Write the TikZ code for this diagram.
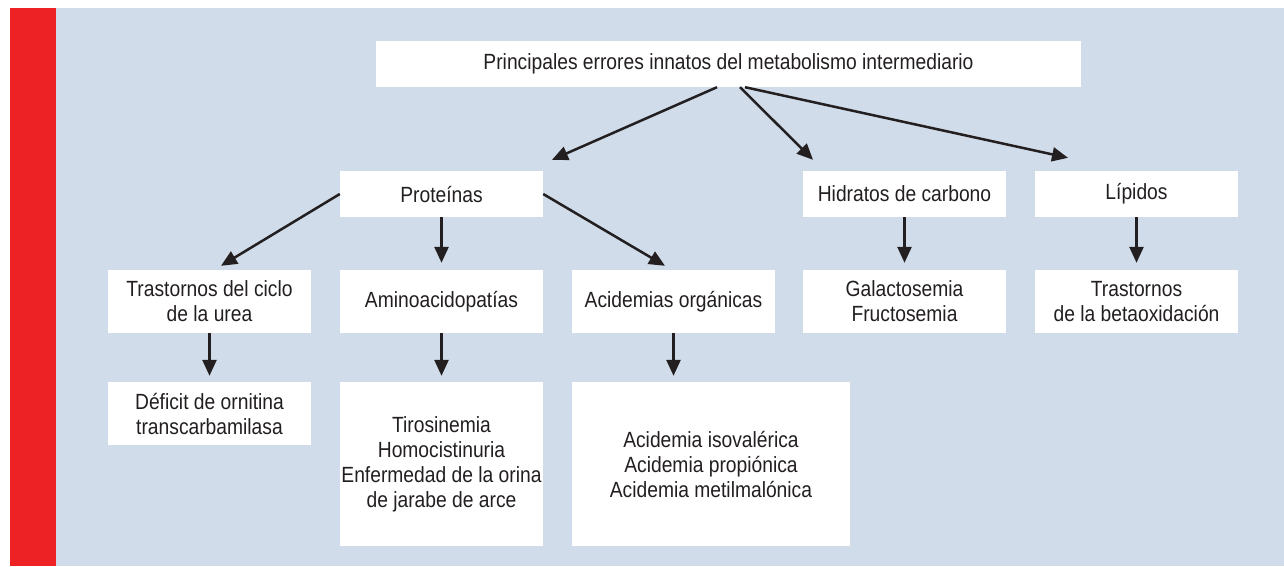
\documentclass[tikz,border=0pt]{standalone}
\usepackage{fontspec}
\setmainfont{Liberation Sans}[FakeStretch=0.875]
\usetikzlibrary{arrows.meta}
\definecolor{redbar}{RGB}{237,34,37}
\definecolor{bgblue}{RGB}{208,220,233}
\definecolor{ink}{RGB}{35,31,32}
\tikzset{
  box/.style={fill=white, draw=none, inner sep=0pt, align=center, text=ink,
    font=\fontsize{22}{25}\selectfont},
  conn/.style={draw=ink, line width=2.5pt, -{Triangle[length=16pt,width=14pt]}},
}
\begin{document}
\begin{tikzpicture}[x=1pt,y=-1pt]
\useasboundingbox (0,0) rectangle (1284,566);
\fill[white] (0,0) rectangle (1284,566);
\fill[redbar] (10,8) rectangle (56,566);
\fill[bgblue] (56,8) rectangle (1284,566);

\node[box, minimum width=705pt, minimum height=46pt] (top) at (728.5,64)
  {Principales errores innatos del metabolismo intermediario};

\node[box, minimum width=203pt, minimum height=46pt] (prot) at (441.5,194) {Proteínas};
\node[box, minimum width=203pt, minimum height=46pt] (hid) at (904.5,194) {Hidratos de carbono};
\node[box, minimum width=203pt, minimum height=46pt] (lip) at (1136.5,194) {Lípidos};

\node[box, minimum width=203pt, minimum height=63pt] (tras) at (209.5,301.5) {Trastornos del ciclo\\de la urea};
\node[box, minimum width=203pt, minimum height=63pt] (amino) at (441.5,301.5) {Aminoacidopatías};
\node[box, minimum width=203pt, minimum height=63pt] (acid) at (673.5,301.5) {Acidemias orgánicas};
\node[box, minimum width=203pt, minimum height=63pt] (gal) at (904.5,301.5) {Galactosemia\\Fructosemia};
\node[box, minimum width=203pt, minimum height=63pt] (beta) at (1136.5,301.5) {Trastornos\\de la betaoxidación};

\node[box, minimum width=203pt, minimum height=63pt] (def) at (209.5,413.5) {Déficit de ornitina\\transcarbamilasa};
\node[box, minimum width=203pt, minimum height=164pt] (tiro) at (441.5,464) {Tirosinemia\\Homocistinuria\\Enfermedad de la orina\\de jarabe de arce};
\node[box, minimum width=278pt, minimum height=164pt] (acidb) at (711,464) {Acidemia isovalérica\\Acidemia propiónica\\Acidemia metilmalónica};

\draw[conn] ([xshift=-11.5pt]top.south) -- ([xshift=110.5pt,yshift=11pt]prot.north);
\draw[conn] ([xshift=11.5pt]top.south) -- ([xshift=-91.5pt,yshift=11pt]hid.north);
\draw[conn] ([xshift=16.5pt]top.south) -- ([xshift=-68.5pt,yshift=13pt]lip.north);

\draw[conn] (prot.west) -- ([xshift=11.5pt,yshift=4pt]tras.north);
\draw[conn] (prot.south) -- ([yshift=7pt]amino.north);
\draw[conn] (prot.east) -- ([xshift=-8.5pt,yshift=4pt]acid.north);
\draw[conn] (hid.south) -- ([yshift=7pt]gal.north);
\draw[conn] (lip.south) -- ([yshift=7pt]beta.north);

\draw[conn] (tras.south) -- ([yshift=6pt]def.north);
\draw[conn] (amino.south) -- ([yshift=6pt]tiro.north);
\draw[conn] (acid.south) -- ([xshift=-37.5pt,yshift=6pt]acidb.north);
\end{tikzpicture}
\end{document}
